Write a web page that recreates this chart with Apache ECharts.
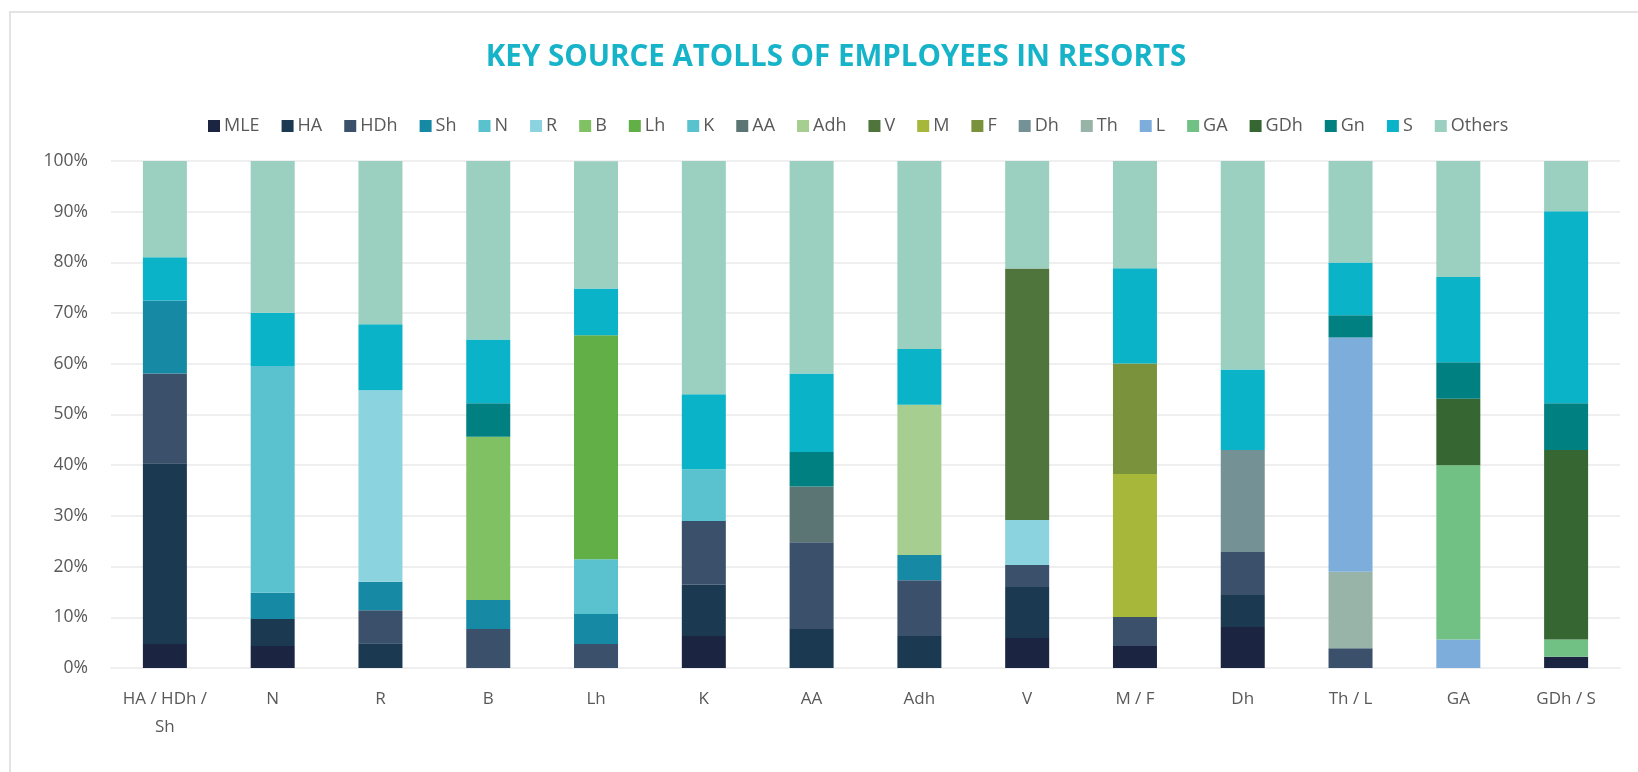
<!DOCTYPE html>
<html>
<head>
<meta charset="utf-8">
<script src="https://cdn.jsdelivr.net/npm/echarts@6/dist/echarts.min.js"></script>
<style>
html,body{margin:0;padding:0;background:#fff;}
#chart{width:1638px;height:772px;}
</style>
</head>
<body>
<div id="chart"></div>
<script>
const categories = ['HA / HDh / Sh','N','R','B','Lh','K','AA','Adh','V','M / F','Dh','Th / L','GA','GDh / S'];
const yTicks = [0,10,20,30,40,50,60,70,80,90,100];

const MLE    = [4.75, 4.35, 0,    0,    0,    6.3,  0,    0,    5.9,  4.35, 8.1,  0,    0,    2.2];
const HA     = [35.65,5.3,  4.9,  0,    0,    10.1, 7.7,  6.3,  10.1, 0,    6.3,  0,    0,    0];
const HDh    = [17.7, 0,    6.5,  7.7,  4.75, 12.6, 17.1, 11.0, 4.3,  5.7,  8.5,  3.9,  0,    0];
const Sh     = [14.4, 5.2,  5.6,  5.7,  5.9,  0,    0,    5.0,  0,    0,    0,    0,    0,    0];
const N      = [0,    44.7, 0,    0,    10.8, 0,    0,    0,    0,    0,    0,    0,    0,    0];
const R      = [0,    0,    37.8, 0,    0,    0,    0,    0,    8.9,  0,    0,    0,    0,    0];
const B      = [0,    0,    0,    32.2, 0,    0,    0,    0,    0,    0,    0,    0,    0,    0];
const Lh     = [0,    0,    0,    0,    44.2, 0,    0,    0,    0,    0,    0,    0,    0,    0];
const K      = [0,    0,    0,    0,    0,    10.2, 0,    0,    0,    0,    0,    0,    0,    0];
const AA     = [0,    0,    0,    0,    0,    0,    11.0, 0,    0,    0,    0,    0,    0,    0];
const Adh    = [0,    0,    0,    0,    0,    0,    0,    29.6, 0,    0,    0,    0,    0,    0];
const V      = [0,    0,    0,    0,    0,    0,    0,    0,    49.6, 0,    0,    0,    0,    0];
const M      = [0,    0,    0,    0,    0,    0,    0,    0,    0,    28.2, 0,    0,    0,    0];
const F      = [0,    0,    0,    0,    0,    0,    0,    0,    0,    21.8, 0,    0,    0,    0];
const Dh     = [0,    0,    0,    0,    0,    0,    0,    0,    0,    0,    20.1, 0,    0,    0];
const Th     = [0,    0,    0,    0,    0,    0,    0,    0,    0,    0,    0,    15.1, 0,    0];
const L      = [0,    0,    0,    0,    0,    0,    0,    0,    0,    0,    0,    46.2, 5.6,  0];
const GA     = [0,    0,    0,    0,    0,    0,    0,    0,    0,    0,    0,    0,    34.4, 3.4];
const GDh    = [0,    0,    0,    0,    0,    0,    0,    0,    0,    0,    0,    0,    13.1, 37.4];
const Gn     = [0,    0,    0,    6.6,  0,    0,    6.8,  0,    0,    0,    0,    4.4,  7.2,  9.2];
const S      = [8.5,  10.5, 13.0, 12.6, 9.2,  14.8, 15.5, 11.0, 0,    18.8, 15.9, 10.4, 16.8, 37.9];
const Others = [19.0, 30.0, 32.2, 35.2, 25.1, 46.0, 41.9, 37.1, 21.2, 21.2, 41.1, 20.0, 22.9, 9.9];

const seriesNames = ['MLE','HA','HDh','Sh','N','R','B','Lh','K','AA','Adh','V','M','F','Dh','Th','L','GA','GDh','Gn','S','Others'];
const seriesData = [MLE,HA,HDh,Sh,N,R,B,Lh,K,AA,Adh,V,M,F,Dh,Th,L,GA,GDh,Gn,S,Others];
const colors = ['#1B2440','#1B3A52','#3A506B','#168AA4','#59C2CE','#8AD3DF','#80C164','#62AE47','#59C2CE','#5B7474','#A7CE91','#4F743C','#A6B73A','#7A923C','#749295','#98B3A8','#7DAEDB','#71C185','#366732','#008080','#0AB3C8','#9BCFC0'];

const chart = echarts.init(document.getElementById('chart'));
const font = 'Open Sans';
chart.setOption({
  animation: false,
  color: colors,
  graphic: [{
    type: 'rect', shape: {x: 10, y: 12, width: 1700, height: 800},
    style: {fill: 'none', stroke: '#E3E3E3', lineWidth: 2}, silent: true, z: -1
  }],
  title: {
    text: 'KEY SOURCE ATOLLS OF EMPLOYEES IN RESORTS',
    left: 831, top: 38, textAlign: 'center',
    textStyle: {color: '#17B4C9', fontSize: 29.5, fontWeight: 'bold', fontFamily: font}
  },
  legend: {
    top: 112, left: 203,
    itemWidth: 12, itemHeight: 12, itemGap: 22,
    icon: 'rect',
    textStyle: {color: '#595959', fontSize: 18, fontFamily: font, padding: [0,0,0,-1]},
    data: seriesNames
  },
  grid: {left: 111, right: 18, top: 161, bottom: 104, containLabel: false},
  xAxis: {
    type: 'category', data: categories,
    axisLine: {show: true, lineStyle: {color: '#EFEFEF', width: 2}},
    axisTick: {show: false},
    axisLabel: {
      color: '#595959', fontSize: 17, fontFamily: font, margin: 17, lineHeight: 28,
      interval: 0,
      formatter: v => v === 'HA / HDh / Sh' ? 'HA / HDh /\nSh' : v
    }
  },
  yAxis: {
    type: 'value', min: 0, max: 100, interval: 10,
    axisLine: {show: false}, axisTick: {show: false},
    splitLine: {lineStyle: {color: '#EFEFEF', width: 2}},
    axisLabel: {color: '#595959', fontSize: 17.5, fontFamily: font, margin: 23,
      formatter: v => yTicks.includes(v) ? v + '%' : ''}
  },
  series: seriesNames.map((n, i) => ({
    name: n, type: 'bar', stack: 'total', data: seriesData[i],
    barWidth: 44,
    itemStyle: {color: colors[i]}
  }))
});
</script>
</body>
</html>
